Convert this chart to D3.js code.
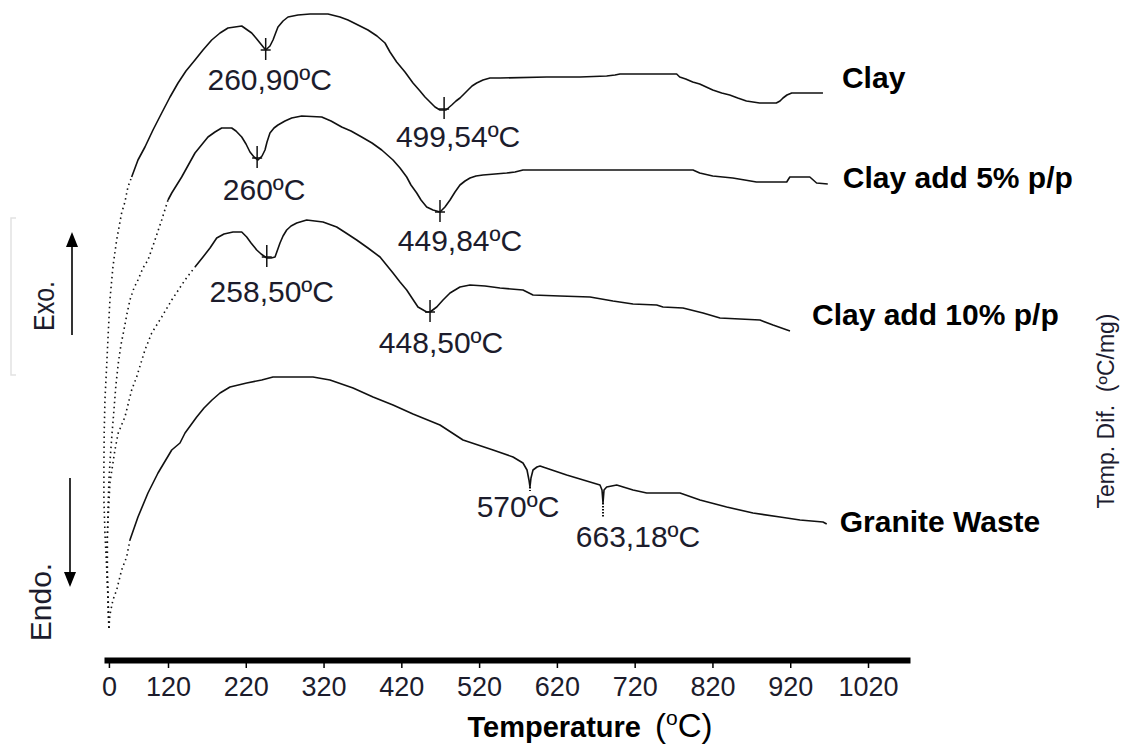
<!DOCTYPE html>
<html>
<head>
<meta charset="utf-8">
<script src="https://cdn.jsdelivr.net/npm/d3@7"></script>
<style>
  body { margin: 0; background: #fff; }
  svg { display: block; font-family: "Liberation Sans", Arial, sans-serif; }
</style>
</head>
<body>
<div id="chart"></div>
<script>
// DTA curves: [temperature ºC, temp. difference (arbitrary units)]
const clay = [[0,32],[-1.4,60],[-4.7,93],[-8.1,127],[-10.2,160],[-10.2,193],[-9.6,227],[-8.1,260],[-4.7,293],[-1.4,327],
  [2,360],[8.1,393],[15.7,420],[25.8,447],[32.5,458],[38.6,473],[46.2,483],[59,500],[73.2,513],[89.5,530],[107.2,547],
  [122.6,563],[132.9,577],[143.1,589],[154.7,600],[165,610],[176.2,620],[186.9,627],[197.1,632],[214.8,634],[227.6,627],
  [233.1,622],[238.3,617],[245.6,610],[251.1,614],[255,620],[258.9,628],[261.4,633],[267.9,639],[274.3,643],[287.1,645],
  [302.6,646],[325.7,646],[341.1,643],[351.4,640],[364.3,635],[377.1,630],[388.7,624],[399,617],[405.4,608],[414,598],
  [424.7,588],[435,577],[444,569],[450.4,563],[463.3,553],[469.7,550],[477.4,550],[484.8,555],[490.3,559],[495.4,562],
  [500.6,566],[505.7,570],[510.9,574],[516.9,577],[525,580],[534,582],[546.9,582],[606.9,583],[649.7,583],[684,584],
  [694.7,585],[701.1,586],[774,586],[777.9,583],[785.6,581],[794.6,578],[803.6,576],[820.4,570],[831.9,567],[842.2,565],
  [852.5,562],[863.7,559],[880.6,557],[902.1,557],[906.9,559],[910.7,562],[915.8,565],[921.9,567],[962.1,567]];

const clay5 = [[0,32],[-2,60],[-3.1,90],[-3.1,120],[-2,150],[0,180],[3.1,205],[6.1,225],[10.2,250],[14.2,275],[19.3,298],
  [24.4,315],[30.5,330],[36.6,346],[42.7,360],[50.9,372],[59,380],[69.2,392],[79.3,400],[93.6,420],[107.2,440],[120,460],
  [124.8,467],[137.6,483],[154.7,507],[171.4,523],[180.4,528],[189,532],[201.9,532],[207.4,529],[214.8,523],[220.3,516],
  [225.4,508],[230.6,503],[235.7,500],[240.9,504],[244.7,510],[247.3,518],[251.1,527],[256.3,532],[261.4,535],[270.4,539],
  [279,542],[291.9,544],[317.6,543],[329.6,539],[343.3,533],[355.3,529],[369,523],[382.3,517],[394.8,510],[409.3,500],
  [418.3,492],[426.9,483],[432.4,475],[439.8,467],[445.3,460],[452.6,453],[460.7,450],[469.7,448],[476.1,453],[482.6,460],
  [489,468],[495.4,475],[501.9,479],[508.3,482],[516,484],[525,485],[540.4,486],[555.5,487],[566.1,488],[576.4,490],
  [795,490],[803.6,487],[820.4,484],[846.1,482],[861.5,480],[876.6,478],[915.5,478],[919.5,483],[945.2,483],[953.9,477],
  [968.3,476]];

const clay10 = [[0,32],[-2.6,70],[-4.7,110],[-1.4,143],[2,177],[12.2,210],[18.9,227],[32.5,243],[46.2,270],[56.3,283],
  [73.2,310],[86.9,327],[107.2,343],[124.8,360],[141.9,380],[154.7,393],[165,403],[174,412],[182.6,422],[192,426],
  [203.6,428],[214.8,428],[221.2,423],[226.8,417],[234.1,410],[239.7,406],[247,402],[252.6,402],[257.6,403],[264,417],
  [267.9,424],[272.6,430],[278.2,434],[285.5,437],[298.3,440],[319.3,438],[336.9,433],[348.9,427],[362.6,420],[377.1,412],
  [392.6,403],[409.3,387],[418.3,378],[426.9,370],[433.7,362],[441.4,353],[452.6,348],[456.9,348],[465.5,353],[473.6,360],
  [482.6,367],[495.4,373],[508.3,375],[527.6,374],[546.9,372],[576.4,370],[589.3,365],[624,364],[662.6,363],[692.1,359],
  [717.9,356],[748.3,355],[756.4,353],[782.1,352],[807.9,347],[829.7,342],[855.4,341],[881.1,340],[897.9,335],[919.7,329]];

const granite = [[0,32],[2,45],[8.1,60],[15.7,70],[25.8,90],[36,103],[42.7,120],[59,143],[79.3,167],[99.7,187],[124.8,210],
  [135.4,217],[141.9,227],[156.9,243],[166.3,252],[176.6,260],[186.9,267],[199.7,273],[221.2,277],[240.5,280],[255,283],
  [306.4,283],[328.3,280],[357.9,272],[383.6,263],[409.3,255],[435,246],[469.7,235],[499.3,220],[537.9,210],[563.6,203],
  [576.4,197],[581.6,190],[584.1,180],[585.4,173],[586.7,182],[589.3,190],[594.4,193],[598.3,194],[632.6,185],[675.4,175],
  [678,170],[679.3,157],[680.6,170],[684,173],[696.9,175],[717.9,170],[735.5,167],[778.3,167],[804,160],[838.3,153],
  [872.1,147],[906.9,143],[932.6,140],[962.1,138],[966.9,136]];

const seriesNames = ["Clay", "Clay add 5% p/p", "Clay add 10% p/p", "Granite Waste"];

const xTicks = [0, 120, 220, 320, 420, 520, 620, 720, 820, 920, 1020];

// marked peaks
const peakText = ["260,90ºC", "499,54ºC", "260ºC", "449,84ºC", "258,50ºC", "448,50ºC", "570ºC", "663,18ºC"];
const peakT = [245.6, 475, 234.6, 469.7, 247, 456.9, 585.4, 679.3];
const peakV = [610, 551, 502, 448, 403, 348, 173, 157];

// ---- layout ----
const W = 1135, H = 747;
const series = [clay, clay5, clay10, granite];
const solidFrom = [46, 120, 154, 42];          // below this the trace is drawn sparse/dotted
const nameOffset = [[19, -5], [15, 4], [22, -6], [13, 8]];
const peakOffset = [[4, 40], [14, 38], [7, 42], [20, 39], [5, 45], [11, 41], [-12, 30], [35, 44]];
const peakMark = ["cross", "cross", "cross", "cross", "cross", "cross", "dot", "dot"];
const dotLen = [0, 0, 0, 0, 0, 0, 4, 15];
const ink = "#111";

const svg = d3.select("#chart").append("svg")
  .attr("width", W)
  .attr("height", H);

svg.append("rect").attr("width", W).attr("height", H).attr("fill", "#fff");

// axis in the source is not uniform between 0 and 120
const x = d3.scaleLinear().domain([-10, 120, 1074]).range([104, 168, 910]);
const y = d3.scaleLinear().domain([0, 650]).range([660, 10]);

const line = d3.line().x(d => x(d[0])).y(d => y(d[1]));

series.forEach(function (data, i) {
  const k = data.findIndex(d => d[0] >= solidFrom[i]);
  svg.append("path")
    .datum(data.slice(0, k + 1))
    .attr("d", line)
    .attr("fill", "none")
    .attr("stroke", ink)
    .attr("stroke-width", 1.6)
    .attr("stroke-dasharray", "1.5 3.5");
  svg.append("path")
    .datum(data.slice(k))
    .attr("d", line)
    .attr("fill", "none")
    .attr("stroke", ink)
    .attr("stroke-width", 1.6)
    .attr("stroke-linejoin", "round");

  const last = data[data.length - 1];
  svg.append("text")
    .attr("x", x(last[0]) + nameOffset[i][0])
    .attr("y", y(last[1]) + nameOffset[i][1])
    .attr("font-size", 30)
    .attr("font-weight", "bold")
    .attr("fill", "#000")
    .text(seriesNames[i]);
});

// peak markers and labels
peakText.forEach(function (t, i) {
  const cx = x(peakT[i]), cy = y(peakV[i]);
  if (peakMark[i] === "cross") {
    svg.append("line").attr("x1", cx).attr("x2", cx).attr("y1", cy - 12).attr("y2", cy + 10)
      .attr("stroke", ink).attr("stroke-width", 1.5);
    svg.append("line").attr("x1", cx - 5).attr("x2", cx + 5).attr("y1", cy).attr("y2", cy)
      .attr("stroke", ink).attr("stroke-width", 1.5);
  } else {
    svg.append("line").attr("x1", cx).attr("x2", cx).attr("y1", cy).attr("y2", cy + dotLen[i])
      .attr("stroke", ink).attr("stroke-width", 2).attr("stroke-dasharray", "1.5 1.5");
  }
  svg.append("text")
    .attr("x", cx + peakOffset[i][0])
    .attr("y", cy + peakOffset[i][1])
    .attr("text-anchor", "middle")
    .attr("font-size", 30)
    .attr("fill", "#1c1c2c")
    .text(t);
});

// x axis
const ax = svg.append("g")
  .attr("transform", "translate(0,660)")
  .attr("font-family", "'Liberation Sans', Arial, sans-serif")
  .call(d3.axisBottom(x).tickValues(xTicks).tickSize(8).tickSizeOuter(0).tickPadding(9).tickFormat(d3.format("d")));
ax.select(".domain").attr("stroke", "#000").attr("stroke-width", 6);
ax.selectAll(".tick line").attr("stroke", "#000").attr("stroke-width", 1.5);
ax.selectAll(".tick text").attr("font-size", 27).attr("fill", "#1c1c2c");

const xt = svg.append("text")
  .attr("x", 590)
  .attr("y", 737)
  .attr("text-anchor", "middle")
  .attr("fill", "#000");
xt.append("tspan").attr("font-size", 29).attr("font-weight", "bold").text("Temperature ");
xt.append("tspan").attr("font-size", 33).attr("dx", 6).text("(");
xt.append("tspan").attr("font-size", 21).attr("dy", -12).text("o");
xt.append("tspan").attr("font-size", 33).attr("dy", 12).text("C)");

// Exo / Endo arrows
svg.append("path").attr("d", "M16,218H11V375H16").attr("fill", "none").attr("stroke", "#e2e2e2").attr("stroke-width", 1.5);

svg.append("line").attr("x1", 72).attr("x2", 72).attr("y1", 335).attr("y2", 244)
  .attr("stroke", "#000").attr("stroke-width", 1.6);
svg.append("path").attr("d", "M72,232L66,247H78Z").attr("fill", "#000");
svg.append("line").attr("x1", 70).attr("x2", 70).attr("y1", 478).attr("y2", 575)
  .attr("stroke", "#000").attr("stroke-width", 1.6);
svg.append("path").attr("d", "M70,587L64,572H76Z").attr("fill", "#000");

svg.append("text")
  .attr("transform", "translate(54,306) rotate(-90)")
  .attr("text-anchor", "middle")
  .attr("font-size", 30)
  .attr("textLength", 50)
  .attr("lengthAdjust", "spacingAndGlyphs")
  .attr("fill", "#1c1c2c")
  .text("Exo.");
svg.append("text")
  .attr("transform", "translate(51,602) rotate(-90)")
  .attr("text-anchor", "middle")
  .attr("font-size", 30)
  .attr("fill", "#1c1c2c")
  .text("Endo.");

// right-hand y title
svg.append("text")
  .attr("transform", "translate(1114,411) rotate(-90)")
  .attr("text-anchor", "middle")
  .attr("font-size", 23)
  .attr("fill", "#1c1c30")
  .style("white-space", "pre")
  .text("Temp. Dif.  (ºC/mg)");
</script>
</body>
</html>
